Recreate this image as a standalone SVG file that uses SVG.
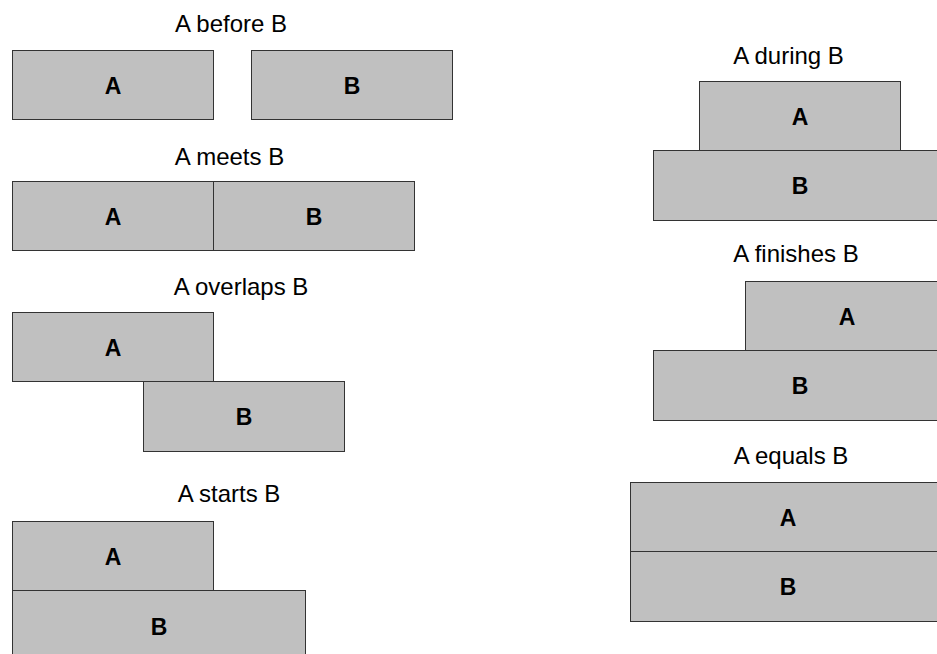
<svg xmlns="http://www.w3.org/2000/svg" width="937" height="654" viewBox="0 0 937 654">
<style>
.bar{fill:#c0c0c0;stroke:#333;stroke-width:1}
.t{font-family:"Liberation Sans",Arial,sans-serif;font-size:24px;fill:#000;text-anchor:middle}
.l{font-family:"Liberation Sans",Arial,sans-serif;font-size:23px;font-weight:bold;fill:#000;text-anchor:middle}
</style>
<rect width="937" height="654" fill="#fff"/>
<g id="before">
<text class="t" x="231" y="32">A before B</text>
<rect class="bar" x="12.5" y="50.5" width="201" height="69"/>
<text class="l" x="113" y="93.5">A</text>
<rect class="bar" x="251.5" y="50.5" width="201" height="69"/>
<text class="l" x="352" y="93.5">B</text>
</g>
<g id="meets">
<text class="t" x="229.5" y="165">A meets B</text>
<rect class="bar" x="12.5" y="181.5" width="201" height="69"/>
<text class="l" x="113" y="224.5">A</text>
<rect class="bar" x="213.5" y="181.5" width="201" height="69"/>
<text class="l" x="314" y="224.5">B</text>
</g>
<g id="overlaps">
<text class="t" x="241" y="295">A overlaps B</text>
<rect class="bar" x="12.5" y="312.5" width="201" height="69"/>
<text class="l" x="113" y="355.5">A</text>
<rect class="bar" x="143.5" y="381.5" width="201" height="70"/>
<text class="l" x="244" y="425">B</text>
</g>
<g id="starts">
<text class="t" x="229" y="502">A starts B</text>
<rect class="bar" x="12.5" y="521.5" width="201" height="69"/>
<text class="l" x="113" y="564.5">A</text>
<rect class="bar" x="12.5" y="590.5" width="293" height="70"/>
<text class="l" x="159" y="634.5">B</text>
</g>
<g id="during">
<text class="t" x="788.5" y="64">A during B</text>
<rect class="bar" x="699.5" y="81.5" width="201" height="69"/>
<text class="l" x="800" y="124.5">A</text>
<rect class="bar" x="653.5" y="150.5" width="294" height="70"/>
<text class="l" x="800" y="194">B</text>
</g>
<g id="finishes">
<text class="t" x="796" y="262">A finishes B</text>
<rect class="bar" x="745.5" y="281.5" width="202" height="69"/>
<text class="l" x="847" y="324.5">A</text>
<rect class="bar" x="653.5" y="350.5" width="294" height="70"/>
<text class="l" x="800" y="394">B</text>
</g>
<g id="equals">
<text class="t" x="791" y="464">A equals B</text>
<rect class="bar" x="630.5" y="482.5" width="316" height="69"/>
<text class="l" x="788" y="525.5">A</text>
<rect class="bar" x="630.5" y="551.5" width="316" height="70"/>
<text class="l" x="788" y="595">B</text>
</g>
<g id="connectors"/>
</svg>
